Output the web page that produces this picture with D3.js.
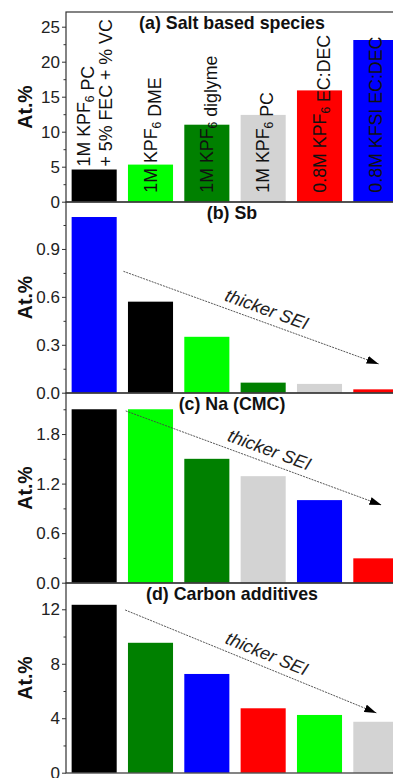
<!DOCTYPE html>
<html>
<head>
<meta charset="utf-8">
<script src="https://cdn.jsdelivr.net/npm/d3@7"></script>
<style>
  html, body { margin: 0; padding: 0; background: #fff; }
  svg { display: block; }
</style>
</head>
<body>
<div id="chart"></div>
<script>
// ---------------- DATA ----------------
const electrolytes = [
  "1M KPF6 PC\n+ 5% FEC + % VC",
  "1M KPF6 DME",
  "1M KPF6 diglyme",
  "1M KPF6 PC",
  "0.8M KPF6 EC:DEC",
  "0.8M KFSI EC:DEC"
];
const electrolyteColors = ["#000000", "#00ff00", "#008000", "#d3d3d3", "#ff0000", "#0000ff"];

// (a) Salt based species
const saltOrder  = [electrolytes[0], electrolytes[1], electrolytes[2], electrolytes[3], electrolytes[4], electrolytes[5]];
const saltValues = [4.6, 5.3, 11.0, 12.4, 15.9, 23.1];
const saltTicks  = [0, 5, 10, 15, 20, 25];

// (b) Sb
const sbOrder  = [electrolytes[5], electrolytes[0], electrolytes[1], electrolytes[2], electrolytes[3], electrolytes[4]];
const sbValues = [1.10, 0.57, 0.35, 0.063, 0.055, 0.021];
const sbTicks  = [0.0, 0.3, 0.6, 0.9];

// (c) Na (CMC)
const naOrder  = [electrolytes[0], electrolytes[1], electrolytes[2], electrolytes[3], electrolytes[5], electrolytes[4]];
const naValues = [2.10, 2.10, 1.50, 1.29, 1.00, 0.295];
const naTicks  = [0.0, 0.6, 1.2, 1.8];

// (d) Carbon additives
const cOrder  = [electrolytes[0], electrolytes[2], electrolytes[5], electrolytes[4], electrolytes[1], electrolytes[3]];
const cValues = [12.33, 9.54, 7.25, 4.73, 4.24, 3.74];
const cTicks  = [0, 4, 8, 12];

// "thicker SEI" arrows: [slot position, value] start and end
const sbArrow = [[1.02, 0.76], [5.55, 0.18]];
const naArrow = [[1.06, 2.08], [5.60, 0.94]];
const cArrow  = [[1.05, 11.95], [5.51, 4.39]];

// ---------------- LAYOUT ----------------
const W = 393, H = 778;
const plotLeft = 66, plotRight = 404;
const FONT = "'Liberation Sans', Arial, Helvetica, sans-serif";

const color = d3.scaleOrdinal().domain(electrolytes).range(electrolyteColors);
const slot = d3.scaleLinear().domain([0, 6]).range([plotLeft, plotRight]);

const panels = [
  { title: "(a) Salt based species", order: saltOrder, values: saltValues, ticks: saltTicks, minorStep: 2.5, yMax: 27.1, top: 12,  bottom: 202, fmt: d3.format("d"),   arrow: null,    labels: true },
  { title: "(b) Sb",                 order: sbOrder,   values: sbValues,   ticks: sbTicks,   minorStep: 0.15, yMax: 1.194, top: 202, bottom: 393, fmt: d3.format(".1f"), arrow: sbArrow, labels: false },
  { title: "(c) Na (CMC)",           order: naOrder,   values: naValues,   ticks: naTicks,   minorStep: 0.3, yMax: 2.297, top: 393, bottom: 583, fmt: d3.format(".1f"), arrow: naArrow, labels: false },
  { title: "(d) Carbon additives",   order: cOrder,    values: cValues,    ticks: cTicks,    minorStep: 2,   yMax: 13.93, top: 583, bottom: 773, fmt: d3.format("d"),   arrow: cArrow,  labels: false }
];

const svg = d3.select("#chart").append("svg")
  .attr("width", W).attr("height", H)
  .attr("viewBox", `0 0 ${W} ${H}`)
  .style("font-family", FONT);

svg.append("defs").append("marker")
  .attr("id", "arrowhead")
  .attr("viewBox", "0 0 12 8")
  .attr("refX", 12).attr("refY", 4)
  .attr("markerWidth", 12).attr("markerHeight", 8)
  .attr("markerUnits", "userSpaceOnUse")
  .attr("orient", "auto")
  .append("path").attr("d", "M0,0 L12,4 L0,8 Z").attr("fill", "#000");

function addLabelText(sel, str) {
  // renders "KPF6" with subscript 6
  const parts = str.split(/(KPF6)/);
  parts.forEach(p => {
    if (p === "KPF6") {
      sel.append("tspan").text("KPF");
      sel.append("tspan").attr("font-size", "12px").attr("dy", 4).text("6");
      sel.append("tspan").attr("dy", -4).text("");
    } else if (p.length) {
      sel.append("tspan").text(p);
    }
  });
}

panels.forEach(p => {
  const g = svg.append("g");
  const x = d3.scaleBand().domain(p.order).range([plotLeft, plotRight]).paddingInner(0.2).paddingOuter(0.1);
  const y = d3.scaleLinear().domain([0, p.yMax]).range([p.bottom - 0.3, p.top]);

  const data = p.order.map((k, i) => ({ key: k, value: p.values[i] }));

  // bars
  g.selectAll("rect.bar").data(data).join("rect")
    .attr("class", "bar")
    .attr("x", d => x(d.key))
    .attr("width", x.bandwidth())
    .attr("y", d => y(d.value))
    .attr("height", d => y(0) - y(d.value))
    .attr("fill", d => color(d.key));

  // frame
  g.append("rect")
    .attr("x", plotLeft).attr("y", p.top)
    .attr("width", plotRight - plotLeft).attr("height", p.bottom - p.top)
    .attr("fill", "none").attr("stroke", "#333").attr("stroke-width", 1.2);

  // y axis major
  const ax = g.append("g").attr("transform", `translate(${plotLeft},0)`)
    .call(d3.axisLeft(y).tickValues(p.ticks).tickSize(4).tickPadding(2).tickFormat(p.fmt));
  ax.select(".domain").remove();
  ax.selectAll("line").attr("stroke", "#333").attr("stroke-width", 1);
  ax.selectAll("text").attr("font-size", "17px").attr("fill", "#222").attr("font-family", FONT);

  // minor ticks
  const minors = d3.range(p.minorStep, p.yMax, p.minorStep * 2);
  const mx = g.append("g").attr("transform", `translate(${plotLeft},0)`)
    .call(d3.axisLeft(y).tickValues(minors).tickSize(2.5).tickFormat(""));
  mx.select(".domain").remove();
  mx.selectAll("line").attr("stroke", "#333").attr("stroke-width", 1);

  // y label
  g.append("text")
    .attr("transform", `translate(32,${(p.top + p.bottom) / 2}) rotate(-90)`)
    .attr("text-anchor", "middle")
    .attr("font-size", "19.5px").attr("font-weight", "bold").attr("fill", "#111")
    .text("At.%");

  // title
  g.append("text")
    .attr("x", (plotLeft + plotRight) / 2 - 3)
    .attr("y", p.top + 17)
    .attr("text-anchor", "middle")
    .attr("font-size", "17.8px").attr("font-weight", "bold").attr("fill", "#111")
    .text(p.title);

  // rotated category labels inside panel (a)
  if (p.labels) {
    data.forEach(d => {
      const cx = x(d.key) + x.bandwidth() / 2;
      const isBlack = color(d.key) === "#000000";
      const yStart = isBlack ? y(d.value) - 3 : y(0) - 9;
      const lines = d.key.split("\n");
      lines.forEach((ln, li) => {
        const bx = lines.length === 1 ? cx + 6 : cx - 4 + li * 22;
        const t = g.append("text")
          .attr("transform", `translate(${bx},${yStart}) rotate(-90)`)
          .attr("font-size", "17.8px").attr("fill", "#111");
        addLabelText(t, ln);
      });
    });
  }

  // arrow + "thicker SEI"
  if (p.arrow) {
    const [s, e] = p.arrow;
    const x1 = slot(s[0]), y1 = y(s[1]), x2 = slot(e[0]), y2 = y(e[1]);
    g.append("line")
      .attr("x1", x1).attr("y1", y1).attr("x2", x2).attr("y2", y2)
      .attr("stroke", "#444").attr("stroke-width", 0.9)
      .attr("stroke-dasharray", "2,1")
      .attr("marker-end", "url(#arrowhead)");
    const ang = Math.atan2(y2 - y1, x2 - x1);
    const deg = ang * 180 / Math.PI;
    const mxp = (x1 + x2) / 2, myp = (y1 + y2) / 2;
    const along = 12, perp = 13;
    const tx = mxp + along * Math.cos(ang) + perp * Math.sin(ang);
    const ty = myp + along * Math.sin(ang) - perp * Math.cos(ang);
    g.append("text")
      .attr("transform", `translate(${tx},${ty}) rotate(${deg})`)
      .attr("text-anchor", "middle")
      .attr("dominant-baseline", "central")
      .attr("font-size", "18px").attr("font-style", "italic").attr("fill", "#222")
      .text("thicker SEI");
  }
});
</script>
</body>
</html>
